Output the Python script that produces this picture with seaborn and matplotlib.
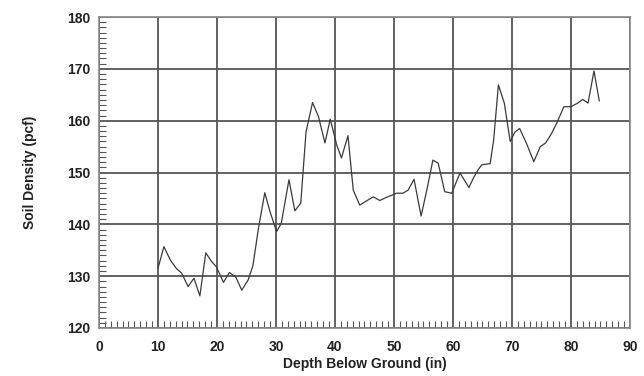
import matplotlib
matplotlib.use("Agg")
import matplotlib.pyplot as plt
import seaborn as sns
import pandas as pd
from matplotlib.ticker import MultipleLocator

depth = [10.0, 11.0, 12.1, 13.1, 14.0, 15.1, 16.1, 17.1, 18.1, 19.1, 19.9, 21.1, 22.1, 23.2, 24.2, 25.3,
         26.1, 27.0, 28.1, 29.0, 30.1, 30.9, 32.2, 33.2, 34.2, 35.1, 36.2, 37.2, 38.3, 39.2, 40.3,
         41.1, 42.2, 43.1, 44.2, 45.3, 46.5, 47.6, 48.7, 49.6, 50.4, 51.5, 52.4, 53.4, 54.6, 55.6,
         56.6, 57.5, 58.6, 59.8, 60.5, 61.2, 62.7, 63.5, 64.3, 64.9, 66.3, 66.9, 67.7, 68.7, 69.7,
         70.5, 71.3, 72.5, 73.7, 74.8, 75.7, 76.7, 77.7, 78.8, 80.0, 81.0, 82.0, 82.9, 83.9, 84.8]
density = [131.5, 135.7, 133.1, 131.5, 130.6, 128.0, 129.6, 126.2, 134.5, 132.8, 131.8, 128.8, 130.7, 129.8, 127.3, 129.3,
           132.1, 139.0, 146.1, 142.4, 138.6, 140.2, 148.6, 142.6, 144.1, 157.9, 163.5, 160.8, 155.7, 160.3, 155.3,
           152.8, 157.1, 146.6, 143.7, 144.5, 145.3, 144.6, 145.2, 145.6, 146.0, 146.0, 146.6, 148.7, 141.6, 146.8,
           152.4, 151.8, 146.3, 146.0, 148.0, 149.9, 147.1, 149.0, 150.6, 151.5, 151.7, 156.3, 166.9, 163.4, 156.0,
           157.8, 158.5, 155.5, 152.1, 155.0, 155.7, 157.5, 159.8, 162.7, 162.7, 163.3, 164.1, 163.4, 169.6, 163.8]

df = pd.DataFrame({"depth": depth, "density": density})

sns.set_style("white")
plt.rcParams['font.family'] = ['Liberation Sans', 'DejaVu Sans']

fig = plt.figure(figsize=(6.44, 3.76), dpi=100)
ax = fig.add_axes([0.1537, 0.1277, 0.8245, 0.827])

sns.lineplot(data=df, x="depth", y="density", ax=ax, color="#3a3a3a", linewidth=0.9,
             sort=False, estimator=None)

ax.set_xlim(0, 90)
ax.set_ylim(120, 180)
ax.xaxis.set_major_locator(MultipleLocator(10))
ax.yaxis.set_major_locator(MultipleLocator(10))
ax.xaxis.set_minor_locator(MultipleLocator(1))
ax.yaxis.set_minor_locator(MultipleLocator(1))
ax.grid(True, which="major", color="#555555", linewidth=1.3)
ax.set_axisbelow(True)
ax.tick_params(axis="both", which="major", direction="in", length=0, labelsize=10,
               colors="#222222")
ax.tick_params(axis="x", which="major", pad=9)
ax.tick_params(axis="y", which="major", pad=6)
ax.tick_params(axis="both", which="minor", direction="in", length=5, width=0.8,
               color="#555555", bottom=True, left=True)
for lab in ax.get_xticklabels() + ax.get_yticklabels():
    lab.set_fontweight("bold")
for s in ax.spines.values():
    s.set_color("#888888")
    s.set_linewidth(1.2)

ax.set_xlabel("Depth Below Ground (in)", fontsize=10, fontweight="bold", labelpad=2, color="#222222")
ax.set_ylabel("Soil Density (pcf)", fontsize=10, fontweight="bold", labelpad=22, color="#222222")

fig.savefig("out.png", dpi=100, facecolor="white")
